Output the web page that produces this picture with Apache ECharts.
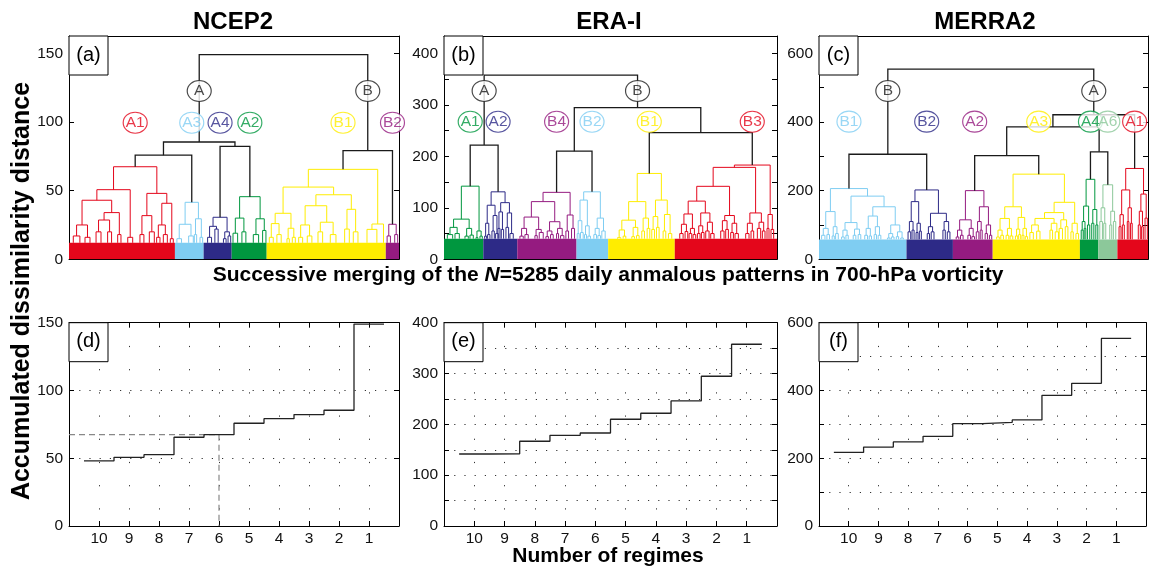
<!DOCTYPE html>
<html><head><meta charset="utf-8">
<script src="https://cdn.jsdelivr.net/npm/echarts@6/dist/echarts.min.js"></script>
<style>html,body{margin:0;padding:0;background:#fff}#c{width:1149px;height:572px}</style>
</head><body><div id="c"></div>
<script>
// ---------------- DATA ----------------
const panelTitles = ['NCEP2', 'ERA-I', 'MERRA2'];
const panelLetters = ['(a)', '(b)', '(c)', '(d)', '(e)', '(f)'];
const regimeCounts = [10, 9, 8, 7, 6, 5, 4, 3, 2, 1];
const accNCEP2 = [48, 50.7, 52.6, 65.5, 67.4, 75.8, 79.2, 82.2, 85.4, 149];
const accERAI = [141.7, 142, 166.7, 178.5, 183, 210, 221.8, 246, 294.6, 357.6];
const accMERRA2 = [217, 233, 248, 264.6, 302, 306, 313, 385.6, 421, 553.7];
const chosenRegimes = 6;

// Dendrograms: x = leaf order position (per mille of the 5285 days), node = [height, left, right]
const ncep2Names = ['A1', 'A3', 'A4', 'A2', 'B1', 'B2'];
const ncep2Spans = [[0, 321], [321, 408], [408, 493], [493, 599], [599, 960], [960, 1000]];
const ncep2Trees = [
  [67.4, [50.7, [43, [25, [17, 13, 33], [16, 48.5, 63.6]], [34, [28.6, [20, 82, 97], [20, 117, 129]], [18, 147.5, 157.5]]], [16, 178, 193]],
         [48, [31.8, [18, 215, 227], [20, 243.4, 258.5]], [40.8, [25, [16, 265.6, 275.7], [18, 285.8, 298]], [15, 307, 316]]]],
  [41.5, [25.5, [15, 327, 341], [17, 362.6, 376.7]], [29.5, [18, 379.8, 386.8], [16, 397, 405]]],
  [30.6, [24, [16, 420, 432], [22, 442, 452]], [20, [15, 468, 476], [17, 482, 490]]],
  [45.6, [30, [19, 497, 511], [20, 524, 536]], [29.5, [18, 558.5, 574.6], [21, 586.7, 596.8]]],
  [65.5, [52.6, [33.5, [26, [16, 607, 619], [18, 630, 643]], [22.6, [15, 660.5, 667.6], [16, 676.7, 685.8]]],
               [47, [39, [25, [16, 696, 708], [17, 722, 736]], [27, [20, 754.5, 768.6], [18, 791.8, 809]]], [36.4, [22, 835.3, 849.4], [20, 861.5, 875.7]]]],
         [25.7, [21.8, 903, 933], 953]],
  [25.5, [17, 964, 974], [18, 987, 996]]
];
const ncep2Top = [149, [85.4, [75.8, 'A1', 'A3'], [82.2, 'A4', 'A2']], [79.2, 'B1', 'B2']];

const eraiNames = ['A1', 'A2', 'B4', 'B2', 'B1', 'B3'];
const eraiSpans = [[0, 118], [118, 220], [220, 398], [398, 493], [493, 693], [693, 1000]];
const eraiTrees = [
  [142, [78, [62, [48, 10, 26], [50, 33, 46]], [60, [45, 63, 73], [47, 78, 88]]], [55, [42, 96, 102], [45, 108, 115]]],
  [131, [105, [70, [45, 122, 128], [48, 131, 138]], [85, [55, 144, 151], [50, 155, 163]]], [110, [92, [60, 162, 168], [58, 172, 179]], [90, [62, 186, 194], [50, 198, 208]]]],
  [130, [112, [82, [60, [45, 228, 238], [48, 243, 253]], [58, [46, 273, 280], [52, 286, 298]]], [73, [55, [44, 306, 314], [48, 320, 328]], [60, [50, 338, 344], [46, 350, 360]]]], [86, [55, 366, 374], [60, 383, 392]]],
  [131, [115, [75, [50, 400, 406], [52, 410, 418]], [65, [48, 422, 428], [45, 432, 440]]], [80, [60, [48, 450, 458], [46, 462, 470]], [55, 474, 484]]],
  [166.7, [112, [76, [57, [42, 521, 531], [45, 538, 546]], [62, [44, 564, 572], [46, 578, 586]]], [80, [55, 594, 602], [60, 610, 618]]], [115, [83, [58, 624, 632], [62, 638, 646]], [87, [55, 658, 666], [50, 674, 684]]]],
  [183, [178.5, [141.7, [113, [88, [68, [50, 708, 718], [54, 724, 732]], [60, [50, 736, 744], [48, 748, 756]]], [90, [65, [50, 761, 769], [52, 773, 781]], [72, [55, 786, 796], [50, 801, 811]]]],
                        [85, [75, [55, 831, 841], [58, 846, 854]], [70, [52, 861, 869], [50, 874, 884]]]],
                [90, [70, [50, 906, 916], [55, 922, 930]], [72, [60, 941, 951], [55, 956, 964]]]],
        [87, [60, 970, 976], [58, 982, 990]]]
];
const eraiTop = [357.6, [221.8, 'A1', 'A2'], [294.6, [210, 'B4', 'B2'], [246, 'B1', 'B3']]];

const merra2Names = ['B1', 'B2', 'A2', 'A3', 'A4', 'A6', 'A1'];
const merra2Spans = [[0, 266], [266, 407], [407, 528], [528, 793], [793, 849], [849, 907], [907, 1000]];
const merra2Trees = [
  [206, [139, [90, [70, 8, 18], [72, 24, 32]], [95, [68, 40, 46.5], [75, 50.5, 58.6]]],
        [184, [107, [85, [65, 68.7, 76.8], [70, 81.8, 88.9]], [88, [70, 104, 112], [72, 119, 127]]],
              [153, [126, [90, [70, 139, 147.5], [68, 152.5, 159.6]], [95, [72, 167.7, 174.7], [70, 179.8, 188]]],
                    [100, [75, [62, 208, 216], [65, 220, 228]], [80, [66, 235, 242], [62, 248.5, 256.5]]]]]],
  [202, [168, [110, [80, 270.7, 278.8], [85, 282.8, 289]], [105, [78, 295, 301], [82, 305, 311]]], [134, [95, [75, 329, 336], [80, 341, 349.5]], [110, [85, 376.7, 383.8], [80, 390, 398]]]],
  [200, [115, [85, [65, 417, 425], [70, 430, 438]], [90, [70, 452.5, 460.6], [66, 464.6, 472.7]]], [153, [110, [80, 478, 486], [85, 490, 496]], [100, [75, 505, 512], [70, 518, 525]]]],
  [248, [153, [119, [85, [65, 540, 548], [70, 552.5, 560.6]], [90, [70, 568.7, 576.8], [68, 580.8, 589]]], [122, [88, [68, 597, 604], [72, 607, 613]], [90, [70, 617, 623], [66, 627, 634]]]],
        [166, [136, [119, [100, [78, 641, 651.5], [82, 661.6, 671.7]], [105, [85, 702, 710], [80, 718, 728]]], [115, [90, 730, 740], [95, 748.5, 756.6]]], [105, [80, 765.7, 772.8], [75, 781, 789]]]],
  [233, [155, [110, [85, 797, 803], [90, 806, 811]], [100, 816, 823]], [145, [105, 829, 835.4], [100, 841.4, 847.5]]],
  [217, [150, [110, 853.4, 861.5], [105, 865.5, 871.6]], [140, [100, 883.7, 889.8], [110, 894.8, 902]]],
  [264.6, [202, [130, [95, 912, 918], [100, 922, 928]], [150, [110, 937, 942], [105, 947, 952]]], [190, [140, [100, 970.5, 976.6], [95, 980.6, 985.7]], [120, 991, 998]]]
];
const merra2Top = [553.7, [306, 'B1', 'B2'], [421, [385.6, [302, 'A2', 'A3'], [313, 'A4', 'A6']], 'A1']];

// ---------------- STYLE / LAYOUT ----------------
const PAL = {red: '#e4061b', lblue: '#7fcdf2', navy: '#2d2a87', green: '#00973f', yellow: '#ffed00', purple: '#951b80', lgreen: '#8cc89a'};
const BLACK = '#1a1a1a';
const FONT = '"Liberation Sans", Arial, Helvetica, sans-serif';
const topGrids = [
  {left: 69, top: 36, width: 330, height: 223.3},
  {left: 444, top: 36, width: 333, height: 223.3},
  {left: 819, top: 36, width: 329, height: 223.3}
];
const botGrids = [
  {left: 69, top: 322.7, width: 330, height: 203.3},
  {left: 444, top: 322.7, width: 333, height: 203.3},
  {left: 819, top: 322.7, width: 329, height: 203.3}
];
const dendroPanels = [
  {names: ncep2Names, spans: ncep2Spans, trees: ncep2Trees, top: ncep2Top, colors: ['red', 'lblue', 'navy', 'green', 'yellow', 'purple'],
   base: 12, yMax: 162.6, tick: 50, label: 50, branchH: 122.5, clusterH: 99.5, branchNames: ['A', 'B']},
  {names: eraiNames, spans: eraiSpans, trees: eraiTrees, top: eraiTop, colors: ['green', 'navy', 'purple', 'lblue', 'yellow', 'red'],
   base: 40, yMax: 433.6, tick: 50, label: 100, branchH: 327, clusterH: 267, branchNames: ['A', 'B']},
  {names: merra2Names, spans: merra2Spans, trees: merra2Trees, top: merra2Top, colors: ['lblue', 'navy', 'purple', 'yellow', 'green', 'lgreen', 'red'],
   base: 58, yMax: 650.4, tick: 100, label: 200, branchH: 490, clusterH: 401, branchNames: ['B', 'A']}
];
const stepPanels = [
  {values: accNCEP2, yMax: 150, tick: 50, label: 50},
  {values: accERAI, yMax: 400, tick: 50, label: 100},
  {values: accMERRA2, yMax: 600, tick: 100, label: 200}
];

function buildDendro(p) {
  const segs = [];
  const rootOf = {};
  function lay(node, color, w) {
    if (typeof node === 'number') return {x: node, h: p.base};
    if (typeof node === 'string') {
      const i = p.names.indexOf(node);
      const r = lay(p.trees[i], PAL[p.colors[i]], 1);
      rootOf[node] = r;
      return r;
    }
    const a = lay(node[1], color, w), b = lay(node[2], color, w);
    segs.push({coords: [[a.x, a.h], [a.x, node[0]], [b.x, node[0]], [b.x, b.h]], lineStyle: {color: color, width: w}});
    return {x: (a.x + b.x) / 2, h: node[0]};
  }
  const left = lay(p.top[1], BLACK, 1.3), right = lay(p.top[2], BLACK, 1.3);
  segs.push({coords: [[left.x, left.h], [left.x, p.top[0]], [right.x, p.top[0]], [right.x, right.h]], lineStyle: {color: BLACK, width: 1.3}});
  const labels = [];
  [left, right].forEach((n, k) => labels.push({name: p.branchNames[k], value: [n.x, p.branchH], color: BLACK}));
  p.names.forEach((nm, i) => labels.push({name: nm, value: [rootOf[nm].x, p.clusterH], color: PAL[p.colors[i]]}));
  return {segs, labels};
}

const fmtMult = step => v => (Math.abs(v / step - Math.round(v / step)) < 1e-6 ? String(Math.round(v)) : '');
const axisLineStyle = {color: '#000', width: 1};
const labelStyle = {fontSize: 15.5, color: '#111', fontFamily: FONT};

const grid = [], xAxis = [], yAxis = [], series = [];
// top dendrogram panels
dendroPanels.forEach((p, i) => {
  grid.push(Object.assign({containLabel: false}, topGrids[i]));
  const gi = grid.length - 1;
  const xb = xAxis.length;
  xAxis.push({gridIndex: gi, type: 'value', min: 0, max: 1000, axisLine: {show: true, onZero: false, lineStyle: axisLineStyle}, axisTick: {show: false}, axisLabel: {show: false}, splitLine: {show: false}});
  xAxis.push({gridIndex: gi, type: 'value', position: 'top', min: 0, max: 1000, axisLine: {show: true, onZero: false, lineStyle: axisLineStyle}, axisTick: {show: false}, axisLabel: {show: false}, splitLine: {show: false}});
  const yb = yAxis.length;
  yAxis.push({gridIndex: gi, type: 'value', min: 0, max: p.yMax, interval: p.tick, axisLine: {show: true, onZero: false, lineStyle: axisLineStyle},
    axisTick: {show: true, inside: true, length: 5, lineStyle: axisLineStyle}, axisLabel: Object.assign({formatter: fmtMult(p.label), margin: 6, showMaxLabel: false}, labelStyle), splitLine: {show: false}});
  yAxis.push({gridIndex: gi, type: 'value', position: 'right', min: 0, max: p.yMax, interval: p.tick, axisLine: {show: true, onZero: false, lineStyle: axisLineStyle},
    axisTick: {show: true, inside: true, length: 5, lineStyle: axisLineStyle}, axisLabel: {show: false}, splitLine: {show: false}});
  const d = buildDendro(p);
  series.push({type: 'custom', xAxisIndex: xb, yAxisIndex: yb, z: 1, silent: true, animation: false, clip: true,
    data: p.spans.map((s, k) => [s[0], s[1], p.base, k]),
    renderItem: (params, api) => {
      const a = api.coord([api.value(0), 0]), b = api.coord([api.value(1), api.value(2)]);
      return {type: 'rect', shape: {x: a[0], y: b[1], width: b[0] - a[0], height: a[1] - b[1]}, style: {fill: PAL[p.colors[api.value(3)]]}};
    }});
  series.push({type: 'lines', coordinateSystem: 'cartesian2d', xAxisIndex: xb, yAxisIndex: yb, polyline: true, z: 2, silent: true, animation: false,
    lineStyle: {width: 1, opacity: 1}, data: d.segs});
  series.push({type: 'scatter', xAxisIndex: xb, yAxisIndex: yb, z: 5, silent: true, animation: false, symbol: 'circle', symbolSize: [24, 21],
    data: d.labels.map(l => ({name: l.name, value: l.value, itemStyle: {color: '#fff', borderColor: l.color, borderWidth: 1.1},
      label: {show: true, position: 'inside', formatter: l.name, color: l.color, fontSize: 15.5, fontFamily: FONT}}))});
});
// bottom step panels
stepPanels.forEach((p, i) => {
  grid.push(Object.assign({containLabel: false}, botGrids[i]));
  const gi = grid.length - 1;
  const xb = xAxis.length;
  xAxis.push({gridIndex: gi, type: 'value', min: 0, max: 11, interval: 1, inverse: true, axisLine: {show: true, onZero: false, lineStyle: axisLineStyle},
    axisTick: {show: true, inside: true, length: 5, lineStyle: axisLineStyle},
    axisLabel: Object.assign({formatter: v => (v >= 1 && v <= 10 ? String(v) : ''), margin: 5}, labelStyle),
    splitLine: {show: true, lineStyle: {color: '#333', width: 1, type: [1.2, 22]}}});
  xAxis.push({gridIndex: gi, type: 'value', position: 'top', min: 0, max: 11, interval: 1, inverse: true, axisLine: {show: true, onZero: false, lineStyle: axisLineStyle},
    axisTick: {show: true, inside: true, length: 5, lineStyle: axisLineStyle}, axisLabel: {show: false}, splitLine: {show: false}});
  const yb = yAxis.length;
  yAxis.push({gridIndex: gi, type: 'value', min: 0, max: p.yMax, interval: p.tick, axisLine: {show: true, onZero: false, lineStyle: axisLineStyle},
    axisTick: {show: true, inside: true, length: 5, lineStyle: axisLineStyle}, axisLabel: Object.assign({formatter: fmtMult(p.label), margin: 6}, labelStyle),
    splitLine: {show: true, lineStyle: {color: '#333', width: 1, type: [1.2, 9]}}});
  yAxis.push({gridIndex: gi, type: 'value', position: 'right', min: 0, max: p.yMax, interval: p.tick, axisLine: {show: true, onZero: false, lineStyle: axisLineStyle},
    axisTick: {show: true, inside: true, length: 5, lineStyle: axisLineStyle}, axisLabel: {show: false}, splitLine: {show: false}});
  const pts = [];
  regimeCounts.forEach((n, k) => { pts.push([n + 0.5, p.values[k]]); pts.push([n - 0.5, p.values[k]]); });
  series.push({type: 'line', xAxisIndex: xb, yAxisIndex: yb, data: pts, showSymbol: false, symbol: 'none', silent: true, animation: false, z: 3,
    lineStyle: {color: '#222', width: 1.3}});
  if (i === 0) {
    const v = p.values[regimeCounts.indexOf(chosenRegimes)];
    series.push({type: 'line', xAxisIndex: xb, yAxisIndex: yb, data: [[11, v], [chosenRegimes, v], [chosenRegimes, 0]], showSymbol: false, symbol: 'none', silent: true, animation: false, z: 2,
      lineStyle: {color: '#888', width: 1.2, type: [6, 4]}});
  }
});

// text & boxes
const graphic = [];
const titleX = [233, 609, 985];
panelTitles.forEach((t, i) => graphic.push({type: 'text', x: titleX[i], y: 22, style: {text: t, font: 'bold 24px ' + FONT, fill: '#000', textAlign: 'center', textVerticalAlign: 'middle', align: 'center', verticalAlign: 'middle'}}));
[...topGrids, ...botGrids].forEach((g, i) => {
  graphic.push({type: 'rect', shape: {x: g.left, y: g.top, width: 39, height: 39}, style: {fill: '#fff', stroke: '#000', lineWidth: 1}, z: 10});
  graphic.push({type: 'text', x: g.left + 19.5, y: g.top + 19, z: 11, style: {text: panelLetters[i], font: '20px ' + FONT, fill: '#000', textAlign: 'center', textVerticalAlign: 'middle', align: 'center', verticalAlign: 'middle'}});
});
graphic.push({type: 'text', x: 608, y: 275, style: {
  text: '{b|Successive merging of the }{i|N}{b|=5285 daily anmalous patterns in 700-hPa vorticity}',
  rich: {b: {font: 'bold 21px ' + FONT, fill: '#000'}, i: {font: 'italic bold 21px ' + FONT, fill: '#000'}},
  textAlign: 'center', textVerticalAlign: 'middle', align: 'center', verticalAlign: 'middle'}});
graphic.push({type: 'text', x: 22, y: 291, rotation: Math.PI / 2, style: {text: 'Accumulated dissimilarity distance', font: 'bold 25px ' + FONT, fill: '#000',
  textAlign: 'center', textVerticalAlign: 'middle', align: 'center', verticalAlign: 'middle'}});
graphic.push({type: 'text', x: 608, y: 556, style: {text: 'Number of regimes', font: 'bold 21px ' + FONT, fill: '#000',
  textAlign: 'center', textVerticalAlign: 'middle', align: 'center', verticalAlign: 'middle'}});

const chart = echarts.init(document.getElementById('c'), null, {renderer: 'canvas'});
chart.setOption({animation: false, backgroundColor: '#fff', grid, xAxis, yAxis, series, graphic});
</script></body></html>
